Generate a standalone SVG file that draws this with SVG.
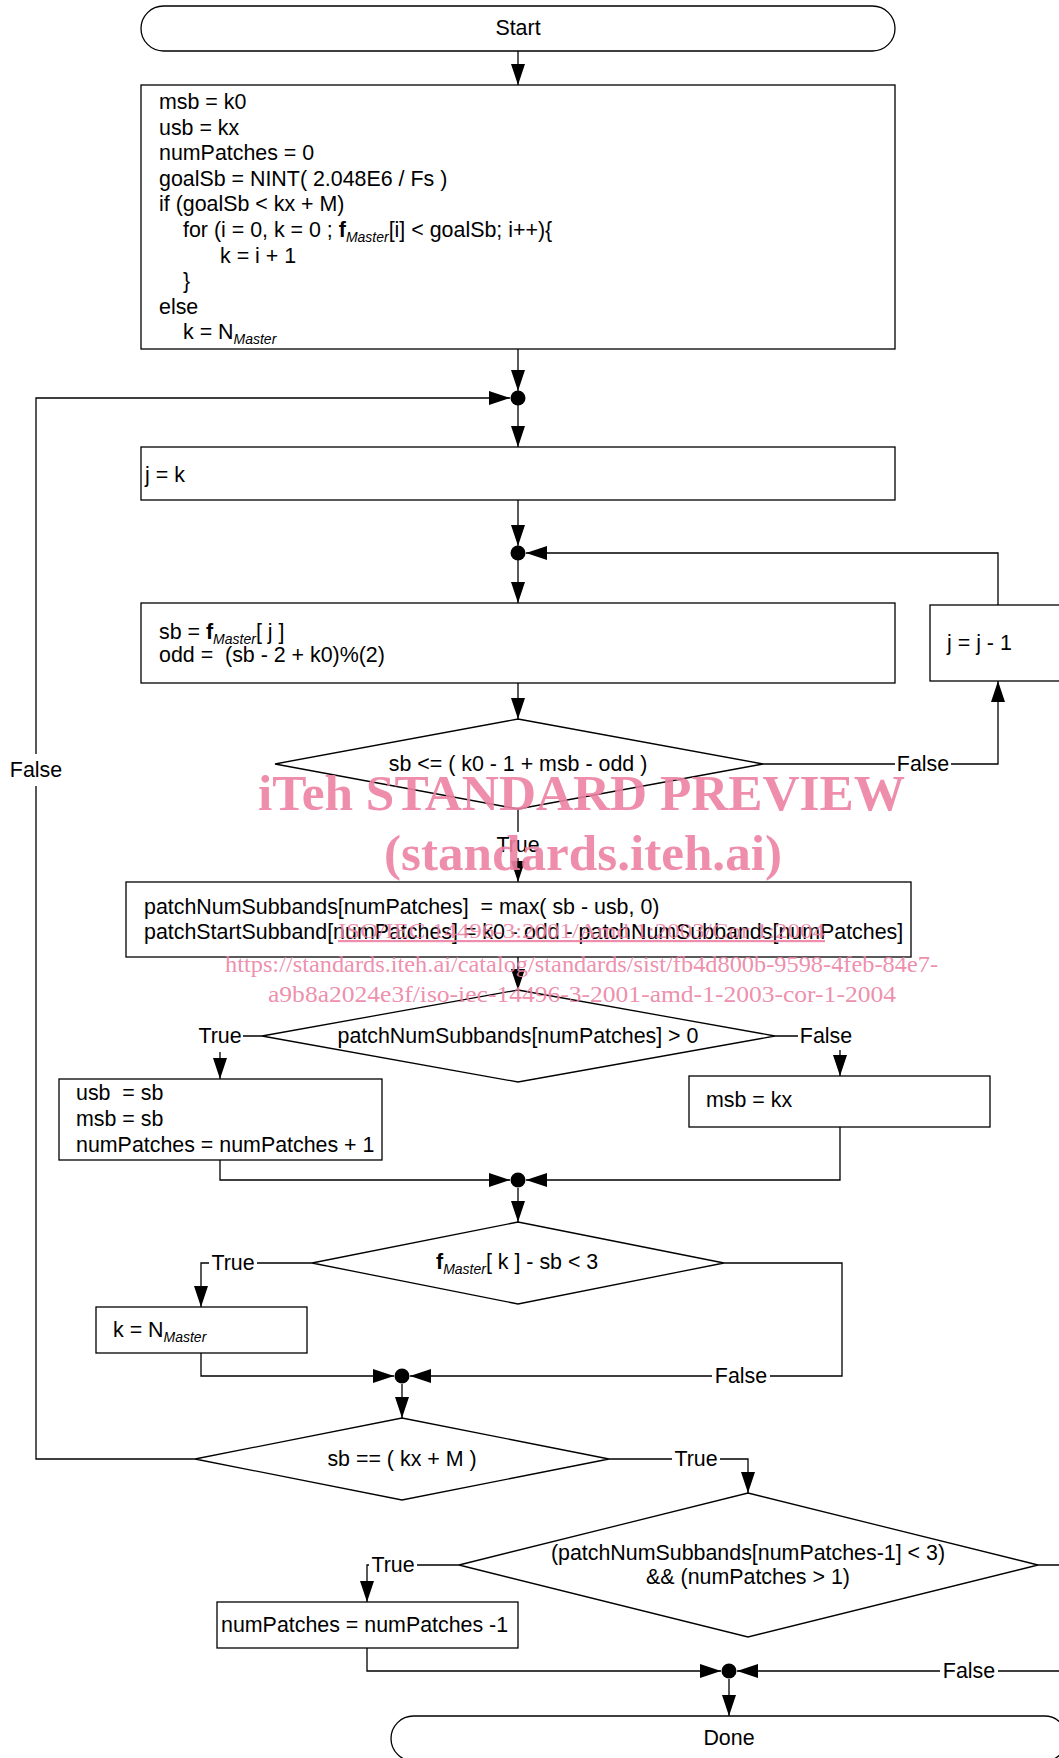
<svg xmlns="http://www.w3.org/2000/svg" width="1059" height="1758" viewBox="0 0 1059 1758">
<style>
.n{fill:#fff;stroke:#000;stroke-width:1.3}
.t{font-family:"Liberation Sans",Arial,sans-serif;font-size:21.4px;fill:#000}
.c{text-anchor:middle}
.sub{font-style:italic;font-size:14px}
.b{font-weight:bold}
.e{fill:none;stroke:#000;stroke-width:1.3}
.lb{fill:#fff}
.dot{fill:#000}
.wm{font-family:"Liberation Serif","Times New Roman",serif;fill:#EC82A3;fill-opacity:0.9}
</style>
<defs>
<marker id="a" markerUnits="userSpaceOnUse" markerWidth="21" markerHeight="14" refX="21" refY="7" orient="auto">
<path d="M0,0 L21,7 L0,14 z" fill="#000"/>
</marker>
</defs>
<rect width="1059" height="1758" fill="#fff"/>

<g id="connectors">
<path class="e" d="M518,51 V85" marker-end="url(#a)"/>
<path class="e" d="M518,349 V391" marker-end="url(#a)"/>
<path class="e" d="M518,405 V447" marker-end="url(#a)"/>
<path class="e" d="M518,500 V546" marker-end="url(#a)"/>
<path class="e" d="M518,560 V603" marker-end="url(#a)"/>
<path class="e" d="M518,683 V719" marker-end="url(#a)"/>
<path class="e" d="M518,809 V882" marker-end="url(#a)"/>
<path class="e" d="M763,764 H998 V681" marker-end="url(#a)"/>
<path class="e" d="M998,605 V553 H526" marker-end="url(#a)"/>
<path class="e" d="M518,957 V990" marker-end="url(#a)"/>
<path class="e" d="M262,1036 H220 V1079" marker-end="url(#a)"/>
<path class="e" d="M775,1036 H840 V1076" marker-end="url(#a)"/>
<path class="e" d="M220,1160 V1180 H510" marker-end="url(#a)"/>
<path class="e" d="M840,1127 V1180 H526" marker-end="url(#a)"/>
<path class="e" d="M518,1188 V1222" marker-end="url(#a)"/>
<path class="e" d="M312,1263 H201 V1307" marker-end="url(#a)"/>
<path class="e" d="M724,1263 H842 V1376 H410" marker-end="url(#a)"/>
<path class="e" d="M201,1353 V1376 H394" marker-end="url(#a)"/>
<path class="e" d="M402,1384 V1418" marker-end="url(#a)"/>
<path class="e" d="M609,1459 H748 V1493" marker-end="url(#a)"/>
<path class="e" d="M195,1459 H36 V398 H510" marker-end="url(#a)"/>
<path class="e" d="M459,1565 H367 V1602" marker-end="url(#a)"/>
<path class="e" d="M1038,1565 H1080 V1671 H737" marker-end="url(#a)"/>
<path class="e" d="M367,1648 V1671 H721" marker-end="url(#a)"/>
<path class="e" d="M729,1679 V1716" marker-end="url(#a)"/>
<g id="labels">
<rect class="lb" x="495" y="832" width="46" height="26"/><text class="t c" x="518" y="852">True</text>
<rect class="lb" x="895" y="751" width="56" height="26"/><text class="t c" x="923" y="771">False</text>
<rect class="lb" x="197" y="1020" width="46" height="32"/><text class="t c" x="220" y="1043">True</text>
<rect class="lb" x="798" y="1022" width="56" height="28"/><text class="t c" x="826" y="1043">False</text>
<rect class="lb" x="209" y="1250" width="48" height="26"/><text class="t c" x="233" y="1270">True</text>
<rect class="lb" x="712" y="1363" width="58" height="26"/><text class="t c" x="741" y="1383">False</text>
<rect class="lb" x="672" y="1446" width="48" height="26"/><text class="t c" x="696" y="1466">True</text>
<rect class="lb" x="7" y="754" width="58" height="32"/><text class="t c" x="36" y="777">False</text>
<rect class="lb" x="369" y="1552" width="48" height="26"/><text class="t c" x="393" y="1572">True</text>
<rect class="lb" x="940" y="1658" width="58" height="26"/><text class="t c" x="969" y="1678">False</text>
</g>
</g>

<g id="start"><rect class="n" x="141" y="6" width="754" height="45" rx="22.5"/><text class="t c" x="518" y="35">Start</text></g>

<g id="init">
<rect class="n" x="141" y="85" width="754" height="264"/>
<text class="t" x="159" y="109">msb = k0</text>
<text class="t" x="159" y="134.6">usb = kx</text>
<text class="t" x="159" y="160.2">numPatches = 0</text>
<text class="t" x="159" y="185.8">goalSb = NINT( 2.048E6 / Fs )</text>
<text class="t" x="159" y="211.4">if (goalSb &lt; kx + M)</text>
<text class="t" x="183" y="237">for (i = 0, k = 0 ; <tspan class="b">f</tspan><tspan class="sub" dy="5">Master</tspan><tspan dy="-5">[i] &lt; goalSb; i++){</tspan></text>
<text class="t" x="220" y="262.6">k = i + 1</text>
<text class="t" x="183" y="288.2">}</text>
<text class="t" x="159" y="313.8">else</text>
<text class="t" x="183" y="339.4">k = N<tspan class="sub" dy="5">Master</tspan></text>
</g>

<g id="dot1"><circle class="dot" cx="518" cy="398" r="7.5"/></g>

<g id="jk"><rect class="n" x="141" y="447" width="754" height="53"/><text class="t" x="145" y="482">j = k</text></g>

<g id="dot2"><circle class="dot" cx="518" cy="553" r="7.5"/></g>

<g id="sbbox">
<rect class="n" x="141" y="603" width="754" height="80"/>
<text class="t" x="159" y="639">sb = <tspan class="b">f</tspan><tspan class="sub" dy="5">Master</tspan><tspan dy="-5">[ j ]</tspan></text>
<text class="t" x="159" y="662" xml:space="preserve">odd =  (sb - 2 + k0)%(2)</text>
</g>

<g id="jdec"><rect class="n" x="930" y="605" width="140" height="76"/><text class="t" x="947" y="650">j = j - 1</text></g>

<g id="d1"><polygon class="n" points="518,719 763,764 518,809 275,764"/><text class="t c" x="518" y="771">sb &lt;= ( k0 - 1 + msb - odd )</text></g>

<g id="patch">
<rect class="n" x="126" y="882" width="785" height="75"/>
<text class="t" x="144" y="914" xml:space="preserve">patchNumSubbands[numPatches]  = max( sb - usb, 0)</text>
<text class="t" x="144" y="939">patchStartSubband[numPatches] = k0 - odd - patchNumSubbands[numPatches]</text>
</g>

<g id="d2"><polygon class="n" points="518,990 775,1036 518,1082 262,1036"/><text class="t c" x="518" y="1043">patchNumSubbands[numPatches] &gt; 0</text></g>

<g id="usbbox">
<rect class="n" x="59" y="1079" width="323" height="81"/>
<text class="t" x="76" y="1100" xml:space="preserve">usb  = sb</text>
<text class="t" x="76" y="1126">msb = sb</text>
<text class="t" x="76" y="1152">numPatches = numPatches + 1</text>
</g>

<g id="msbbox"><rect class="n" x="689" y="1076" width="301" height="51"/><text class="t" x="706" y="1107">msb = kx</text></g>

<g id="dot3"><circle class="dot" cx="518" cy="1180" r="7.5"/></g>

<g id="d3"><polygon class="n" points="518,1222 724,1263 518,1304 312,1263"/><text class="t" x="436" y="1269"><tspan class="b">f</tspan><tspan class="sub" dy="5">Master</tspan><tspan dy="-5">[ k ] - sb &lt; 3</tspan></text></g>

<g id="kbox"><rect class="n" x="96" y="1307" width="211" height="46"/><text class="t" x="113" y="1337">k = N<tspan class="sub" dy="5">Master</tspan></text></g>

<g id="dot4"><circle class="dot" cx="402" cy="1376" r="7.5"/></g>

<g id="d4"><polygon class="n" points="402,1418 609,1459 402,1500 195,1459"/><text class="t c" x="402" y="1466">sb == ( kx + M )</text></g>

<g id="d5"><polygon class="n" points="748,1493 1038,1565 748,1637 459,1565"/>
<text class="t c" x="748" y="1560">(patchNumSubbands[numPatches-1] &lt; 3)</text>
<text class="t c" x="748" y="1584">&amp;&amp; (numPatches &gt; 1)</text></g>

<g id="decbox"><rect class="n" x="217" y="1602" width="301" height="46"/><text class="t" x="221" y="1632">numPatches = numPatches -1</text></g>

<g id="dot5"><circle class="dot" cx="729" cy="1671" r="7.5"/></g>

<g id="done"><rect class="n" x="391" y="1716" width="676" height="45" rx="22.5"/><text class="t c" x="729" y="1745">Done</text></g>

<g id="watermark">
<text class="wm" x="258" y="810" font-size="50" font-weight="bold" textLength="647" lengthAdjust="spacingAndGlyphs">iTeh STANDARD PREVIEW</text>
<text class="wm" x="384" y="870" font-size="50" font-weight="bold" textLength="398" lengthAdjust="spacingAndGlyphs">(standards.iteh.ai)</text>
<text class="wm" x="338" y="938" font-size="22" textLength="487" lengthAdjust="spacingAndGlyphs" text-decoration="underline">ISO/IEC 14496-3:2001/Amd 1:2003/Cor 1:2004</text>
<text class="wm" x="225" y="972" font-size="24" textLength="713" lengthAdjust="spacingAndGlyphs">https://standards.iteh.ai/catalog/standards/sist/fb4d800b-9598-4feb-84e7-</text>
<text class="wm" x="268" y="1002" font-size="24" textLength="628" lengthAdjust="spacingAndGlyphs">a9b8a2024e3f/iso-iec-14496-3-2001-amd-1-2003-cor-1-2004</text>
</g>
</svg>
